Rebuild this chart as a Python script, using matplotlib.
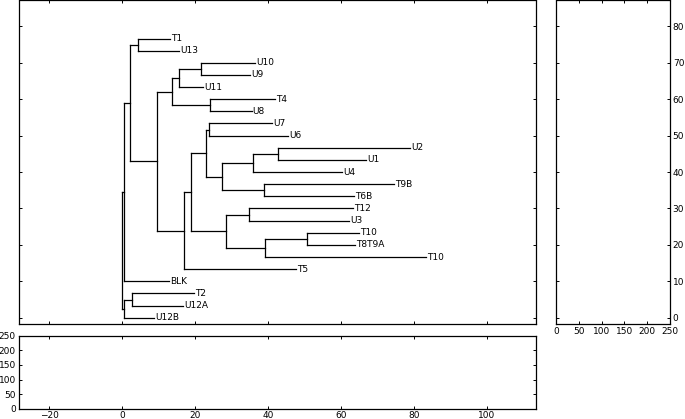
import matplotlib
matplotlib.use("Agg")
import matplotlib.pyplot as plt

# ---- data ----
leaf_names = ["T1", "U13", "U10", "U9", "U11", "T4", "U8", "U7", "U6", "U2", "U1", "U4",
              "T9B", "T6B", "T12", "U3", "T10", "T8T9A", "T10", "T5", "BLK", "T2", "U12A", "U12B"]
leaf_depths = [13.1, 15.55, 36.5, 35.1, 22.1, 42.0, 35.5, 41.2, 45.5, 78.9, 66.8, 60.4,
               74.6, 63.6, 63.4, 62.3, 65.0, 63.8, 83.3, 47.7, 12.8, 19.8, 16.6, 8.8]
# internal nodes: children are leaf indices (int) or node ids (str)
node_ids = ["t1u13", "u10u9", "d", "t4u8", "c", "u7u6", "u2u1", "i", "t9bt6b", "h", "g",
            "t12u3", "t10t8", "k", "j", "f", "e", "b", "a", "r1", "t2u12a", "l", "root"]
node_left = [0, 2, "u10u9", 5, "d", 7, 9, "u2u1", 12, "i", "u7u6",
             14, 16, "t10t8", "t12u3", "g", "f", "c", "t1u13", "a", 21, "t2u12a", "r1"]
node_right = [1, 3, 4, 6, "t4u8", 8, 10, 11, 13, "t9bt6b", "h",
              15, 17, 18, "k", "j", 19, "e", "b", 20, 22, 23, "l"]
node_depths = [4.4, 21.7, 15.7, 24.0, 13.7, 23.9, 42.8, 35.95, 38.9, 27.35, 22.96,
               34.9, 50.8, 39.2, 28.36, 18.75, 17.0, 9.42, 2.2, 0.55, 2.56, 0.55, 0.0]
leaf_spacing = 10.0 / 3.0

main_xticks = [-20, 0, 20, 40, 60, 80, 100]
main_yticks = [0, 10, 20, 30, 40, 50, 60, 70, 80]
side_xticks = [0, 50, 100, 150, 200, 250]
bottom_yticks = [0, 50, 100, 150, 200, 250]

# ---- figure ----
W, H = 685, 419
fig = plt.figure(figsize=(W / 100, H / 100), dpi=100)

def frac(l, r, t, b):
    return [l / W, 1 - b / H, (r - l) / W, (b - t) / H]

ax = fig.add_axes(frac(18.7, 536.3, 0.5, 324.3))
axr = fig.add_axes(frac(556, 670, 0.5, 324.3), sharey=ax)
axb = fig.add_axes(frac(18.7, 536.3, 335.7, 408.7), sharex=ax)

lw = 0.9
n = len(leaf_names)
pos = {}
for i, (nm, d) in enumerate(zip(leaf_names, leaf_depths)):
    pos[i] = (d, (n - 1 - i) * leaf_spacing)

for nid, cl, cr, d in zip(node_ids, node_left, node_right, node_depths):
    y = (pos[cl][1] + pos[cr][1]) / 2
    pos[nid] = (d, y)
    ax.plot([d, d], [pos[cl][1], pos[cr][1]], color="black", lw=lw)
    for c in (cl, cr):
        ax.plot([d, pos[c][0]], [pos[c][1], pos[c][1]], color="black", lw=lw)

for i, nm in enumerate(leaf_names):
    x, y = pos[i]
    ax.text(x + 0.3, y, nm, ha="left", va="center", fontsize=6.5)

ax.set_xlim(-28.4, 113.6)
ax.set_ylim(-1.8, 87.1)
ax.set_xticks(main_xticks)
ax.set_yticks(main_yticks)

for a in (ax, axr, axb):
    a.tick_params(direction="in", top=True, right=True, length=2.5, width=0.7,
                  labelsize=6.5, pad=2)
    for s in a.spines.values():
        s.set_linewidth(0.9)

ax.tick_params(labelleft=False, labelbottom=False)

axr.set_xlim(0, 250)
axr.set_xticks(side_xticks)
axr.tick_params(labelleft=False, labelright=True)

axb.set_ylim(0, 250)
axb.set_yticks(bottom_yticks)
axb.tick_params(labelleft=True, labelbottom=True)

fig.savefig("out.png", dpi=100)
